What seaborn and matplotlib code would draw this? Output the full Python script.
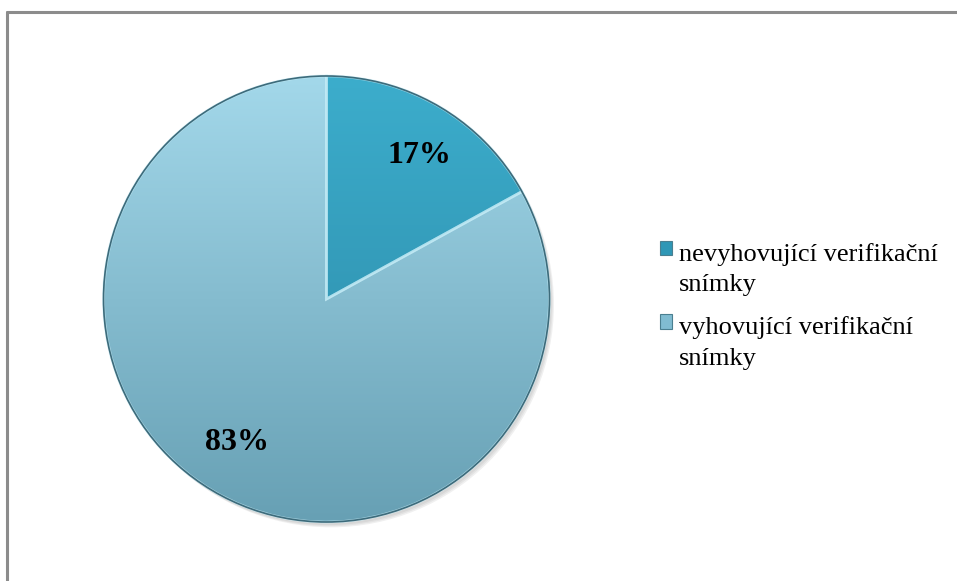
import numpy as np
import matplotlib
matplotlib.use("Agg")
import matplotlib.pyplot as plt
import seaborn as sns
from matplotlib.colors import LinearSegmentedColormap
from matplotlib.patches import Circle, Wedge, Rectangle
from matplotlib.legend_handler import HandlerPatch

labels = ["nevyhovující verifikační\nsnímky", "vyhovující verifikační\nsnímky"]
values = [17, 83]
pct_labels = ["17%", "83%"]
colors = ["#2f97b6", "#80bcd1"]
grad_top = ["#3cadcc", "#a3d8ea"]
grad_bot = ["#2a86a3", "#67a0b4"]

sns.set_theme(style="white")
plt.rcParams["font.family"] = ["Liberation Serif", "DejaVu Serif"]
plt.rcParams["text.color"] = "black"

W, H = 957, 581
fig = plt.figure(figsize=(W / 100, H / 100), dpi=100)
fig.patch.set_facecolor("white")

# frame (only top and left visible in the reference)
fig.add_artist(plt.Line2D([7.5 / W, 7.5 / W], [0, 1 - 11.5 / H], transform=fig.transFigure,
                          color="#8c8c8c", lw=2.2))
fig.add_artist(plt.Line2D([7.5 / W, 1], [1 - 11.5 / H, 1 - 11.5 / H], transform=fig.transFigure,
                          color="#8c8c8c", lw=2.2))

cx, cy, r = 326.5, 299, 223
pad = 1.06
ra = r * pad
ax = fig.add_axes([(cx - ra) / W, (H - cy - ra) / H, 2 * ra / W, 2 * ra / H])

# soft shadow
for i, a in enumerate([0.05, 0.05, 0.06]):
    ax.add_patch(Circle((0.010 + 0.005 * i, -0.014 - 0.005 * i), 1.0, color="black", alpha=a, lw=0, zorder=0))

wedges, _ = ax.pie(values, colors=colors, startangle=90, counterclock=False, radius=1,
                   wedgeprops=dict(linewidth=0, edgecolor="none"))

grad = np.linspace(0, 1, 256).reshape(-1, 1)
for w, top, bot in zip(wedges, grad_top, grad_bot):
    cmap = LinearSegmentedColormap.from_list("g", [bot, top])
    im = ax.imshow(grad, cmap=cmap, extent=[-1, 1, -1, 1], origin="lower", aspect="auto", zorder=2)
    im.set_clip_path(w)
    w.set_zorder(1)

# bevel highlights along slice edges
for w in wedges:
    p = Wedge(w.center, w.r, w.theta1, w.theta2, facecolor="none",
              edgecolor="#c8eef8", lw=2.0, alpha=0.6, zorder=3)
    ax.add_patch(p)
ax.add_patch(Circle((0, 0), 1.0, facecolor="none", edgecolor="#3d6b7b", lw=1.2, zorder=4))

# percentage labels
ax.text(0.415, 0.645, pct_labels[0], ha="center", va="center", fontsize=23, fontweight="bold",
        color="black", zorder=5)
ax.text(-0.40, -0.645, pct_labels[1], ha="center", va="center", fontsize=23, fontweight="bold",
        color="black", zorder=5)

ax.set_xlim(-pad, pad)
ax.set_ylim(-pad, pad)
ax.set_aspect("auto")
ax.axis("off")


def first_line_patch(legend, orig_handle, xdescent, ydescent, width, height, fontsize):
    # place the marker beside the first line of a two-line label
    return Rectangle((-xdescent - 0.3, -ydescent + 15.0), width, height)


leg = fig.legend(wedges, labels, loc="upper left", bbox_to_anchor=(660 / W, 1 - 243 / H),
                 frameon=False, fontsize=19, handlelength=0.48, handleheight=0.48,
                 handletextpad=0.25, labelspacing=0.75, borderaxespad=0, borderpad=0,
                 handler_map={w: HandlerPatch(patch_func=first_line_patch) for w in wedges})
for t in leg.get_texts():
    t.set_linespacing(1.5)
    t.set_color("black")
for h, c in zip(leg.legend_handles, colors):
    h.set_facecolor(c)
    h.set_edgecolor("#4a7f90")
    h.set_linewidth(0.8)

fig.savefig("out.png", dpi=100)
